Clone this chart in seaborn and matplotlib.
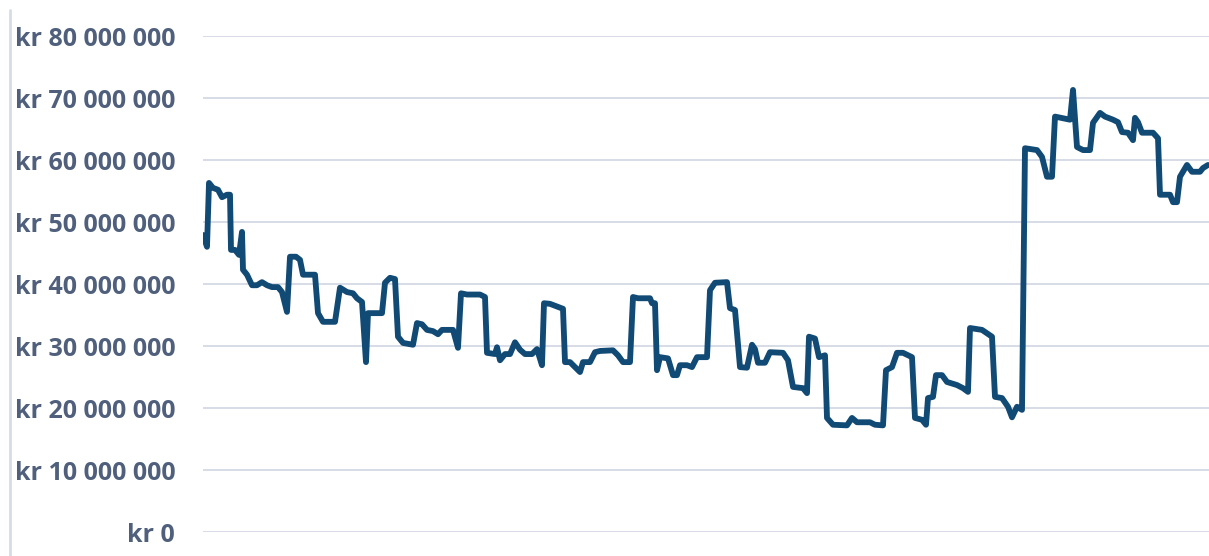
import matplotlib
matplotlib.use("Agg")
import matplotlib.pyplot as plt
from matplotlib.lines import Line2D
from matplotlib.ticker import FuncFormatter
import pandas as pd
import seaborn as sns

# observation index (no x labels in the original) and value in million kr
day = [0, 4, 6, 10, 15, 19, 24, 27, 28, 32, 36, 39, 40, 44, 49, 54, 59, 64, 69, 75,
       79, 84, 87, 93, 97, 100, 112, 115, 120, 132, 137, 144, 150, 154, 159, 163, 165, 179,
       182, 187, 192, 195, 200, 210, 214, 219, 224, 230, 235, 239, 250, 255, 258, 264, 277,
       282, 284, 292, 294, 297, 302, 307, 312, 317, 322, 329, 334, 339, 341, 347, 355, 360,
       362, 367, 372, 377, 380, 387, 392, 397, 410, 415, 420, 427, 430, 435, 447, 449, 452,
       454, 457, 465, 470, 474, 477, 484, 489, 494, 504, 507, 512, 524, 527, 532, 537, 544,
       549, 552, 555, 562, 567, 580, 585, 590, 600, 604, 606, 612, 616, 622, 624, 630, 644,
       649, 654, 667, 672, 680, 683, 689, 694, 700, 709, 712, 719, 723, 725, 730, 733, 739,
       744, 754, 760, 765, 767, 779, 789, 792, 799, 805, 809, 814, 819, 822, 834, 839, 844,
       849, 852, 864, 867, 870, 874, 880, 887, 890, 897, 902, 910, 915, 919, 925, 930, 932,
       935, 939, 950, 955, 957, 967, 970, 974, 977, 984, 989, 997, 1000, 1005]
value_m = [47.9, 46.0, 56.3, 55.5, 55.2, 54.0, 54.4, 54.4, 45.5, 45.5, 44.7, 48.4, 42.3,
           41.5, 39.8, 39.8, 40.3, 39.8, 39.5, 39.5, 38.7, 35.5, 44.4, 44.4, 43.9, 41.5,
           41.5, 35.3, 33.9, 33.9, 39.4, 38.7, 38.5, 37.7, 37.1, 27.4, 35.3, 35.3, 40.2,
           41.0, 40.8, 31.5, 30.5, 30.2, 33.7, 33.5, 32.6, 32.4, 31.9, 32.6, 32.6, 29.7,
           38.5, 38.3, 38.3, 37.9, 28.9, 28.7, 29.8, 27.7, 28.7, 28.7, 30.6, 29.4, 28.7,
           28.7, 29.5, 26.9, 36.9, 36.8, 36.3, 36.0, 27.4, 27.4, 26.6, 25.8, 27.4, 27.4,
           29.0, 29.2, 29.3, 28.5, 27.4, 27.4, 37.9, 37.7, 37.7, 36.9, 36.9, 26.1, 28.2,
           28.0, 25.3, 25.3, 26.9, 26.9, 26.6, 28.2, 28.2, 39.0, 40.2, 40.3, 36.1, 35.8,
           26.6, 26.5, 30.2, 29.5, 27.3, 27.3, 29.0, 28.9, 27.7, 23.4, 23.2, 22.4, 31.5,
           31.2, 28.2, 28.5, 18.4, 17.3, 17.2, 18.4, 17.7, 17.7, 17.3, 17.2, 26.1, 26.6,
           28.9, 28.9, 28.2, 18.4, 18.1, 17.3, 21.6, 21.8, 25.3, 25.3, 24.2, 23.7, 23.2,
           22.6, 32.9, 32.6, 31.5, 21.8, 21.6, 20.2, 18.5, 20.2, 19.7, 61.9, 61.6, 60.5,
           57.3, 57.3, 67.0, 66.6, 66.5, 71.3, 62.1, 61.6, 61.6, 66.0, 67.6, 67.0, 66.5,
           66.1, 64.5, 64.4, 63.2, 66.8, 66.1, 64.4, 64.4, 63.5, 54.4, 54.4, 53.2, 53.2,
           57.3, 59.2, 58.1, 58.1, 58.7, 59.2]
y_ticks = [0, 10e6, 20e6, 30e6, 40e6, 50e6, 60e6, 70e6, 80e6]

df = pd.DataFrame({"day": day, "value": [v * 1e6 for v in value_m]})

sns.set_style("white")
plt.rcParams["font.family"] = ["Open Sans", "DejaVu Sans"]

fig = plt.figure(figsize=(12.09, 5.56), dpi=100)
ax = fig.add_axes([203 / 1209, 24 / 556, 1 - 203 / 1209, 496 / 556])

sns.lineplot(data=df, x="day", y="value", ax=ax, color="#114a74", linewidth=4.2,
             solid_joinstyle="round", solid_capstyle="round", zorder=3)

ax.set_xlim(0, 1006)
ax.set_ylim(0, 80e6)
ax.set_yticks(y_ticks)
ax.yaxis.set_major_formatter(FuncFormatter(lambda v, p: "kr " + f"{int(v):,}".replace(",", " ")))
ax.set_xticks([])
ax.set_xlabel("")
ax.set_ylabel("")
ax.grid(axis="y", color="#d6dce6", linewidth=1.4)
ax.tick_params(axis="y", length=0, pad=20, labelsize=18, labelcolor="#4f5f7c")
for lbl in ax.get_yticklabels():
    lbl.set_fontweight("bold")
for s in ax.spines.values():
    s.set_visible(False)

# thin frame line at the far left
fig.add_artist(Line2D([10 / 1209, 10 / 1209], [0, 546 / 556], color="#d6dce6",
                      linewidth=2, transform=fig.transFigure))

fig.savefig("out.png", dpi=100)
